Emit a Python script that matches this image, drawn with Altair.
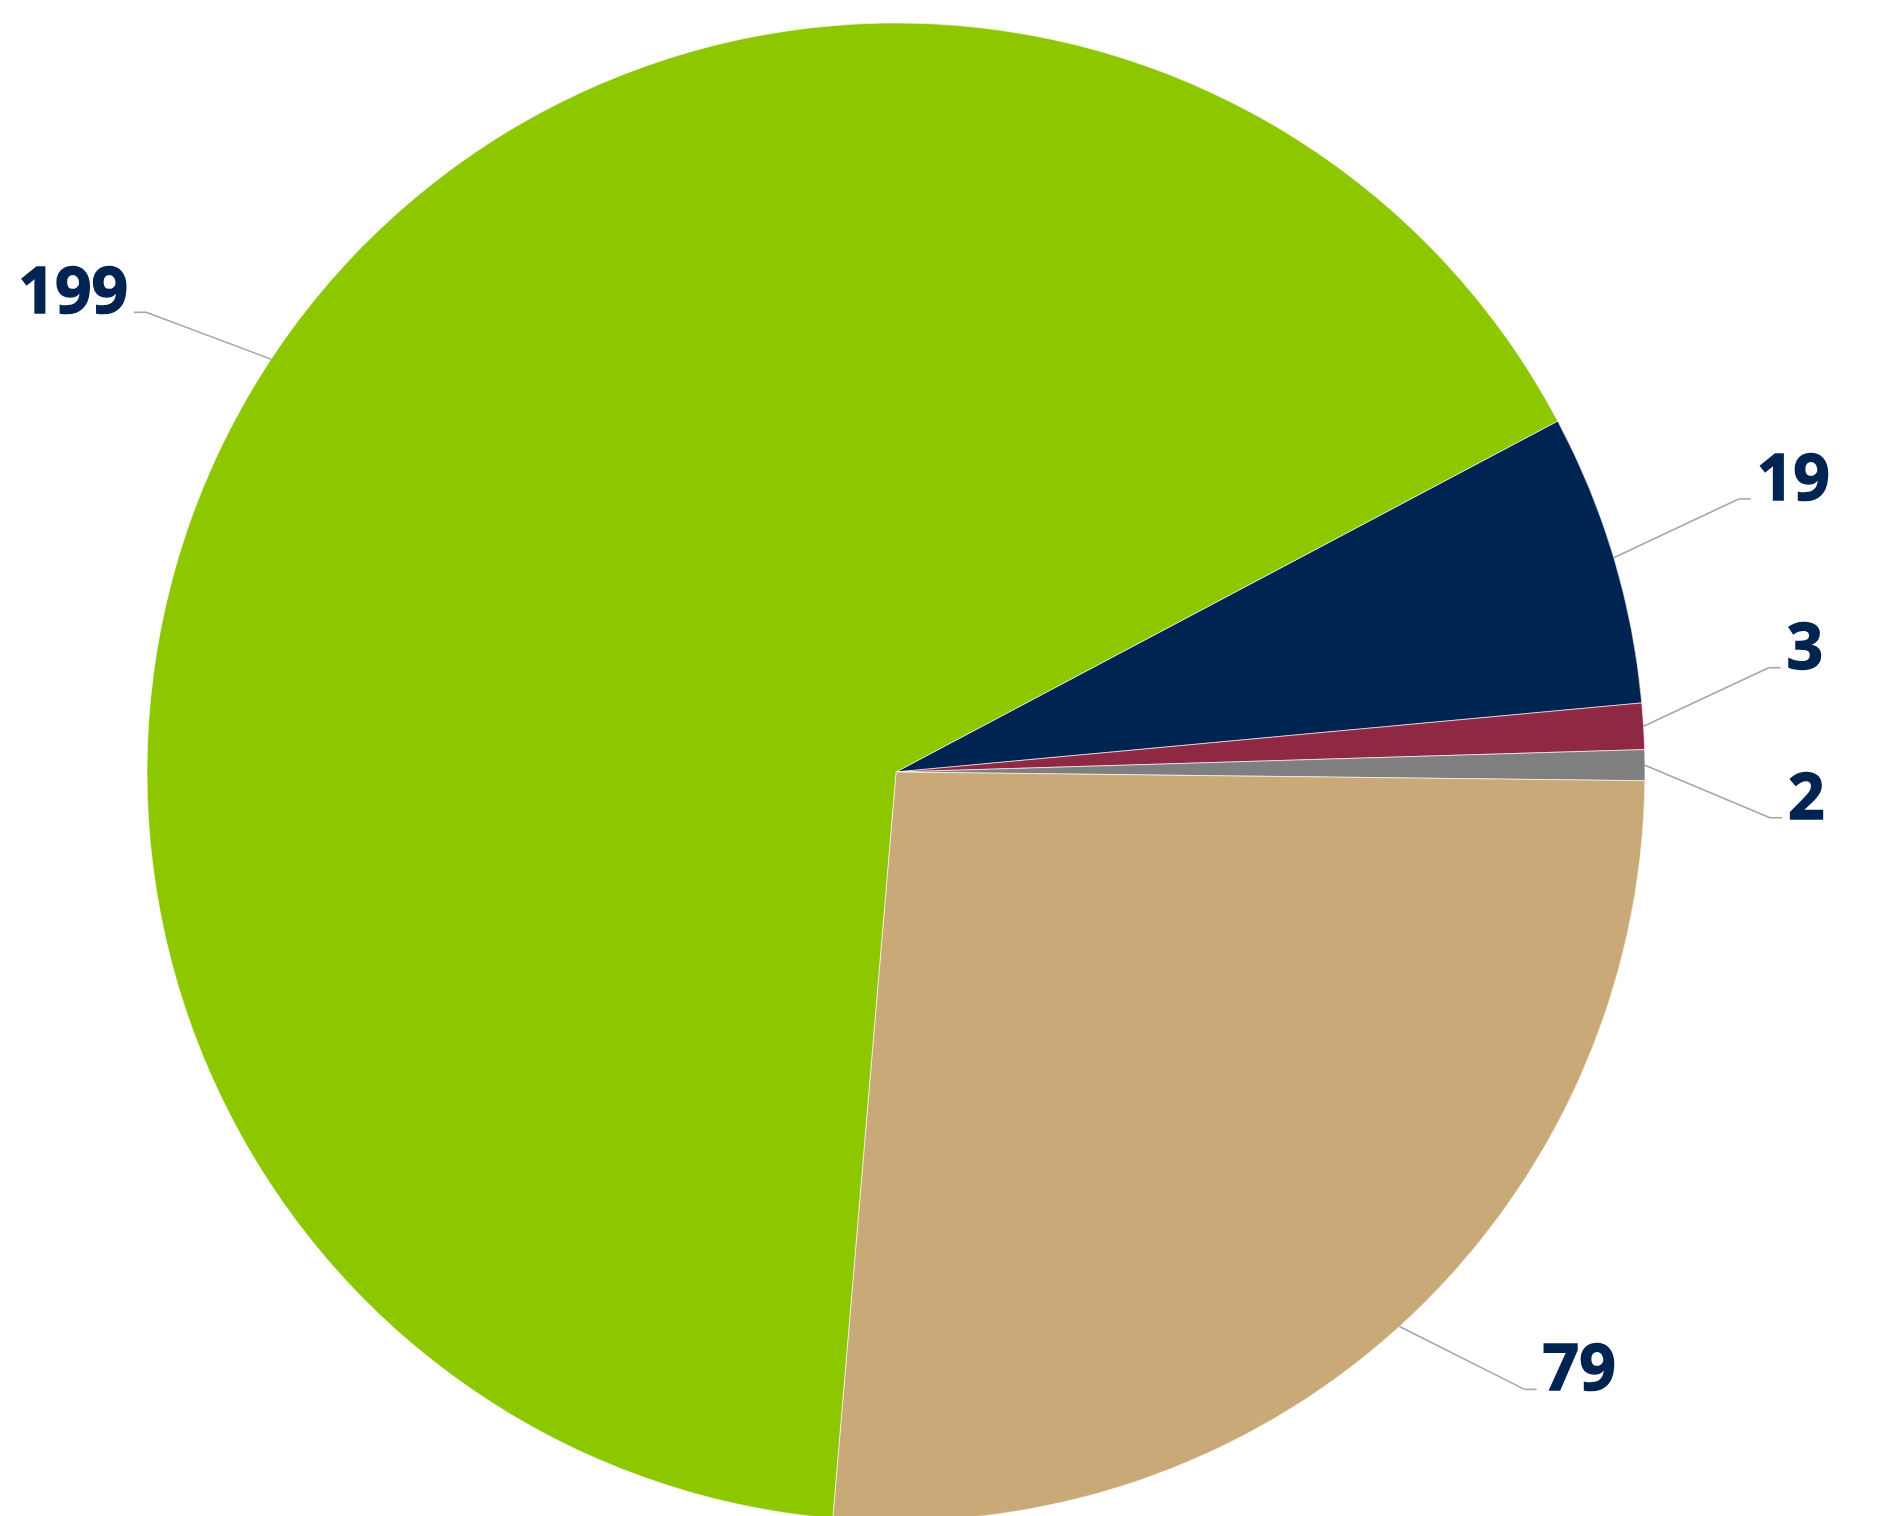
import math
import altair as alt
import pandas as pd

# ---- data ----
categories = ["Category 1", "Category 2", "Category 3", "Category 4", "Category 5"]
values = [19, 3, 2, 79, 199]
colors = ["#002451", "#8E2843", "#7F7F7F", "#C8A977", "#8DC700"]

df = pd.DataFrame({"category": categories, "value": values, "ord": list(range(len(values)))})

# ---- layout constants ----
W, H = 1885, 1516
CX, CY, R = 896, 772, 749
START = math.radians(62.06)          # angle where the first slice begins
DX = 125                              # horizontal reach of the leader line
DY = 85                               # vertical reach of the leader line
GAP = 150                             # minimum vertical spacing of labels
SEG = 12                              # horizontal leader segment length
LINE_COLOR = "#A6A6A6"
TEXT_COLOR = "#002451"

pie = alt.Chart(df).mark_arc(outerRadius=R, stroke="white", strokeWidth=0.6).encode(
    theta=alt.Theta("value:Q", stack=True,
                    scale=alt.Scale(range=[START, START + 2 * math.pi])),
    color=alt.Color("category:N", scale=alt.Scale(domain=categories, range=colors), legend=None),
    order=alt.Order("ord:Q"),
    x=alt.value(CX),
    y=alt.value(CY),
)

base = (
    alt.Chart(df)
    .transform_joinaggregate(total="sum(value)")
    .transform_window(cum="sum(value)", sort=[alt.SortField("ord")], frame=[None, 0])
    .transform_calculate(mid=f"{START} + 2*PI*(datum.cum - datum.value/2)/datum.total")
    .transform_calculate(
        side="sin(datum.mid) >= 0 ? 1 : -1",
        sx=f"{CX} + {R}*sin(datum.mid)",
        sy=f"{CY} - {R}*cos(datum.mid)",
    )
    .transform_calculate(
        ex=f"datum.sx + datum.side*{DX}",
        ey0=f"datum.sy - {DY}*cos(datum.mid)",
    )
    # downward spreading pass
    .transform_window(rd="row_number()", sort=[alt.SortField("ey0", order="ascending")], groupby=["side"])
    .transform_calculate(zd=f"datum.ey0 - (datum.rd-1)*{GAP}")
    .transform_window(czd="max(zd)", sort=[alt.SortField("ey0", order="ascending")],
                      groupby=["side"], frame=[None, 0])
    .transform_calculate(yd=f"datum.czd + (datum.rd-1)*{GAP}")
    # upward spreading pass
    .transform_window(ru="row_number()", sort=[alt.SortField("ey0", order="descending")], groupby=["side"])
    .transform_calculate(wu=f"datum.ey0 + (datum.ru-1)*{GAP}")
    .transform_window(cwu="min(wu)", sort=[alt.SortField("ey0", order="descending")],
                      groupby=["side"], frame=[None, 0])
    .transform_calculate(yu=f"datum.cwu - (datum.ru-1)*{GAP}")
    .transform_calculate(ey="(datum.yd + datum.yu)/2")
    .transform_calculate(hx=f"datum.ex + datum.side*{SEG}",
                         tx=f"datum.ex + datum.side*{SEG + 6}",
                         ty="datum.ey + 1")
)

diag = base.mark_rule(color=LINE_COLOR, strokeWidth=1.6).encode(
    x=alt.X("sx:Q", scale=None), y=alt.Y("sy:Q", scale=None),
    x2="ex:Q", y2="ey:Q",
)
horiz = base.mark_rule(color=LINE_COLOR, strokeWidth=1.6).encode(
    x=alt.X("ex:Q", scale=None), y=alt.Y("ey:Q", scale=None),
    x2="hx:Q", y2="ey:Q",
)
text_kw = dict(font="Open Sans", fontSize=64, fontWeight="bold", color=TEXT_COLOR,
               stroke=TEXT_COLOR, strokeWidth=1.4, baseline="alphabetic")
text_right = base.transform_filter("datum.side > 0").mark_text(align="left", **text_kw).encode(
    x=alt.X("tx:Q", scale=None), y=alt.Y("ty:Q", scale=None), text="value:Q",
)
text_left = base.transform_filter("datum.side < 0").mark_text(align="right", **text_kw).encode(
    x=alt.X("tx:Q", scale=None), y=alt.Y("ty:Q", scale=None), text="value:Q",
)

chart = (
    alt.layer(pie, diag, horiz, text_right, text_left)
    .properties(width=W, height=H, autosize=alt.AutoSizeParams(type="none"), padding=0,
                background="white")
    .configure_view(stroke=None)
)

chart.save("out.html", embed_options={"renderer": "svg", "actions": False})
